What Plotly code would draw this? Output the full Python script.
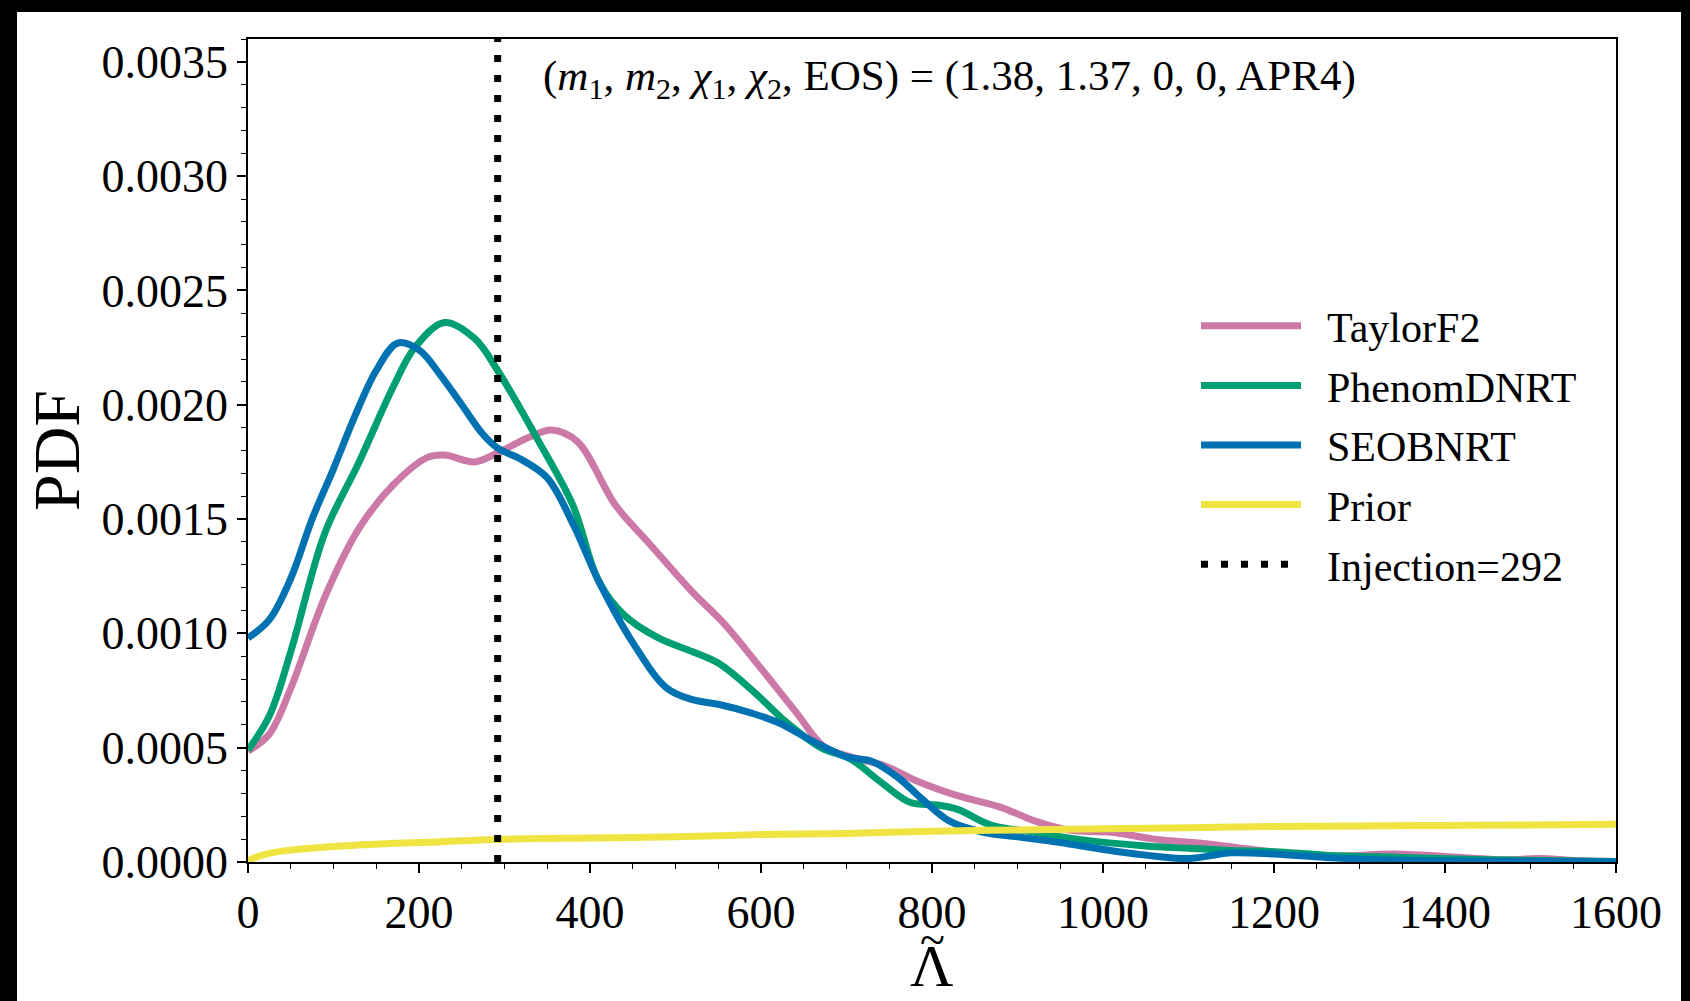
import plotly.graph_objects as go

# ---------------- data ----------------
taylor_x = [0, 25, 50, 90, 130, 170, 210, 230, 265, 292, 330, 355, 385, 430, 470, 520, 555, 595,
            640, 675, 705, 745, 785, 830, 880, 920, 960, 1010, 1060, 1120, 1185, 1260, 1340, 1420,
            1470, 1510, 1560, 1600]
taylor_y = [4.85, 5.6, 7.6, 11.6, 14.6, 16.5, 17.7, 17.8, 17.5, 17.9, 18.6, 18.9, 18.4, 15.6, 13.9,
            11.8, 10.5, 8.7, 6.6, 5.0, 4.6, 4.2, 3.5, 2.9, 2.4, 1.8, 1.4, 1.3, 1.0, 0.8, 0.5, 0.25,
            0.35, 0.2, 0.1, 0.15, 0.05, 0.02]

phenom_x = [0, 25, 50, 90, 130, 170, 195, 230, 265, 292, 340, 380, 410, 440, 480, 520, 550, 590,
            630, 670, 705, 740, 775, 805, 830, 870, 920, 970, 1050, 1100, 1150, 1200, 1260, 1350,
            1450, 1600]
phenom_y = [4.9, 6.4, 9.2, 14.4, 17.5, 20.8, 22.5, 23.6, 22.9, 21.5, 18.4, 15.6, 12.3, 10.8, 9.8,
            9.2, 8.7, 7.5, 6.1, 5.0, 4.5, 3.5, 2.6, 2.5, 2.3, 1.6, 1.3, 1.0, 0.7, 0.6, 0.5, 0.45,
            0.3, 0.2, 0.1, 0.02]

seob_x = [0, 25, 50, 75, 100, 125, 150, 175, 200, 225, 250, 275, 292, 320, 350, 380, 410, 450, 490,
          520, 550, 590, 620, 660, 700, 730, 760, 790, 820, 860, 900, 950, 1000, 1050, 1100, 1150,
          1200, 1260, 1320, 1400, 1500, 1600]
seob_y = [9.8, 10.6, 12.4, 15.0, 17.2, 19.5, 21.5, 22.7, 22.4, 21.3, 20.0, 18.7, 18.1, 17.6, 16.8,
          14.8, 12.3, 9.6, 7.6, 7.1, 6.9, 6.5, 6.1, 5.3, 4.6, 4.4, 3.7, 2.7, 1.8, 1.3, 1.1, 0.85,
          0.55, 0.3, 0.15, 0.4, 0.35, 0.2, 0.1, 0.05, 0.03, 0.0]

prior_x = [0, 10, 25, 50, 100, 150, 200, 300, 400, 500, 600, 700, 800, 900, 1000, 1100, 1200,
           1300, 1400, 1500, 1600]
prior_y = [0.05, 0.22, 0.38, 0.52, 0.68, 0.78, 0.85, 1.0, 1.05, 1.1, 1.2, 1.25, 1.35, 1.4, 1.45,
           1.5, 1.55, 1.58, 1.6, 1.62, 1.65]

SCALE = 1e-4  # values above are in units of 1e-4

injection = 292
y_range = [0, 0.0036]
x_range = [0, 1600]

names = ["TaylorF2", "PhenomDNRT", "SEOBNRT", "Prior"]
colors = ["#CC79A7", "#009E73", "#0072B2", "#F0E442"]
series = [(taylor_x, taylor_y), (phenom_x, phenom_y), (seob_x, seob_y), (prior_x, prior_y)]

FONT = "Liberation Serif"
PAD = "\u00a0\u00a0"

fig = go.Figure()
for name, color, (xs, ys) in zip(names, colors, series):
    fig.add_trace(go.Scatter(
        x=xs, y=[v * SCALE for v in ys], mode="lines", name=PAD + name,
        line=dict(color=color, width=7, shape="spline", smoothing=1.0),
        legendgroup=name,
    ))

fig.add_trace(go.Scatter(
    x=[injection, injection], y=y_range, mode="lines",
    name=PAD + f"Injection={injection}",
    line=dict(color="black", width=7, dash="7px,13px"),
    legendgroup="inj",
))

W, H = 1690, 1001
L, R, T, B = 248, 74, 39, 139
pw, ph = W - L - R, H - T - B

def px_x(p):
    return (p - L) / pw

def px_y(p):
    return (H - B - p) / ph

fig.add_shape(type="rect", xref="paper", yref="paper",
              x0=px_x(17), x1=px_x(1681), y0=px_y(1001), y1=px_y(12),
              fillcolor="white", line=dict(width=0), layer="below")

fig.add_annotation(
    text="(<i>m</i><sub>1</sub>, <i>m</i><sub>2</sub>, <i>χ</i><sub>1</sub>, <i>χ</i><sub>2</sub>, EOS) = (1.38, 1.37, 0, 0, APR4)",
    xref="paper", yref="paper", x=px_x(541), y=px_y(79),
    xanchor="left", yanchor="middle", showarrow=False,
    font=dict(family=FONT, size=43, color="black"),
)

# x-axis title: Lambda with a tilde on top
fig.add_annotation(
    text="Λ", xref="paper", yref="paper", x=px_x(932), y=px_y(966),
    xanchor="center", yanchor="middle", showarrow=False,
    font=dict(family=FONT, size=60, color="black"),
)
fig.add_annotation(
    text="~", xref="paper", yref="paper", x=px_x(932), y=px_y(939),
    xanchor="center", yanchor="middle", showarrow=False,
    font=dict(family=FONT, size=46, color="black"),
)

axis_common = dict(
    showline=True, linecolor="black", linewidth=1.6, mirror=True,
    ticks="outside", ticklen=9, tickwidth=1.6, tickcolor="black",
    showgrid=False, zeroline=False,
    tickfont=dict(family=FONT, size=46, color="black"),
)

fig.update_xaxes(
    range=x_range, dtick=200, tick0=0,
    minor=dict(ticks="outside", ticklen=5, tickwidth=1.2, tickcolor="black", dtick=50),
    **axis_common,
)
fig.update_yaxes(
    range=y_range, dtick=0.0005, tick0=0, tickformat=".4f",
    minor=dict(ticks="outside", ticklen=5, tickwidth=1.2, tickcolor="black", dtick=0.0001),
    title=dict(text="PDF", font=dict(family=FONT, size=66, color="black"), standoff=0),
    **axis_common,
)

fig.update_layout(
    width=W, height=H,
    margin=dict(l=L, r=R, t=T, b=B, autoexpand=False),
    paper_bgcolor="black", plot_bgcolor="white",
    showlegend=True,
    legend=dict(
        x=px_x(1196), y=px_y(292), xanchor="left", yanchor="top",
        bgcolor="rgba(0,0,0,0)", borderwidth=0,
        font=dict(family=FONT, size=42, color="black"),
        itemwidth=100, tracegroupgap=2,
    ),
)

fig.write_html("out.html")
